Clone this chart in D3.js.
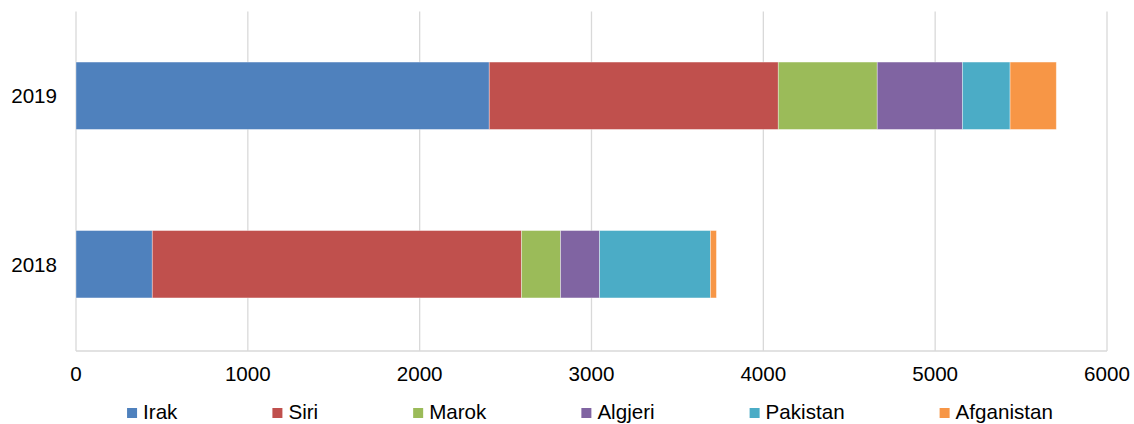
<!DOCTYPE html>
<html>
<head>
<meta charset="utf-8">
<script src="https://cdn.jsdelivr.net/npm/d3@7"></script>
<style>
  html, body { margin: 0; padding: 0; background: #fff; }
  svg { display: block; font-family: "Liberation Sans", Arial, sans-serif; }
</style>
</head>
<body>
<svg id="chart" width="1134" height="424"></svg>
<script>
const years = ["2018", "2019"];
const seriesNames = ["Irak", "Siri", "Marok", "Algjeri", "Pakistan", "Afganistan"];
const irak = [444, 2405];
const siri = [2149, 1682];
const marok = [227, 576];
const algjeri = [227, 496];
const pakistan = [645, 277];
const afganistan = [35, 269];
const colors = ["#4F81BD", "#C0504D", "#9BBB59", "#8064A2", "#4BACC6", "#F79646"];
const xTicks = [0, 1000, 2000, 3000, 4000, 5000, 6000];

const seriesValues = [irak, siri, marok, algjeri, pakistan, afganistan];
const rows = years.map((yr, i) => {
  const r = { year: yr };
  seriesNames.forEach((s, k) => r[s] = seriesValues[k][i]);
  return r;
});

const svg = d3.select("#chart");
const plotLeft = 76, plotRight = 1107, plotTop = 11.5, plotBottom = 348.5, axisY = 351;
const fs = 20.6;

const x = d3.scaleLinear().domain([0, 6000]).range([plotLeft, plotRight]);
const y = d3.scaleBand().domain(years.slice().reverse()).range([plotTop, plotBottom]).padding(0);
const barH = y.bandwidth() * 0.4;

// gridlines
svg.append("g").selectAll("line").data(xTicks).join("line")
  .attr("x1", d => x(d)).attr("x2", d => x(d))
  .attr("y1", plotTop).attr("y2", axisY)
  .attr("stroke", "#d9d9d9").attr("stroke-width", 1.3);

// bottom axis line
svg.append("line").attr("x1", plotLeft).attr("x2", plotRight).attr("y1", axisY).attr("y2", axisY)
  .attr("stroke", "#d9d9d9").attr("stroke-width", 1.3);

const stack = d3.stack().keys(seriesNames)(rows);

svg.append("g").selectAll("g").data(stack).join("g")
  .attr("fill", (d, i) => colors[i])
  .selectAll("rect").data(d => d).join("rect")
  .attr("x", d => x(d[0]))
  .attr("width", d => x(d[1]) - x(d[0]))
  .attr("y", d => y(d.data.year) + (y.bandwidth() - barH) / 2)
  .attr("height", barH)
  .attr("stroke", "#ffffff").attr("stroke-opacity", 0.45).attr("stroke-width", 0.8);

// x tick labels
svg.append("g").selectAll("text").data(xTicks).join("text")
  .attr("x", d => x(d)).attr("y", 381)
  .attr("text-anchor", "middle")
  .attr("font-size", fs).attr("fill", "#000")
  .text(d => d);

// y labels
svg.append("g").selectAll("text").data(years).join("text")
  .attr("x", 57).attr("y", d => y(d) + y.bandwidth() / 2 + 7.5)
  .attr("text-anchor", "end")
  .attr("font-size", fs).attr("fill", "#000")
  .text(d => d);

// legend
const legend = svg.append("g");
const items = legend.selectAll("g").data(seriesNames).join("g");
items.append("rect").attr("width", 10).attr("height", 10).attr("y", 408)
  .attr("fill", (d, i) => colors[i]);
items.append("text").attr("x", 16).attr("y", 418.5)
  .attr("font-size", fs).attr("fill", "#000").text(d => d);
const gap = 95;
let widths = [];
items.each(function() { widths.push(16 + this.querySelector("text").getComputedTextLength()); });
const total = d3.sum(widths) + gap * (widths.length - 1);
let cx = 590 - total / 2;
items.attr("transform", (d, i) => {
  const t = `translate(${cx},0)`;
  cx += widths[i] + gap;
  return t;
});
</script>
</body>
</html>
